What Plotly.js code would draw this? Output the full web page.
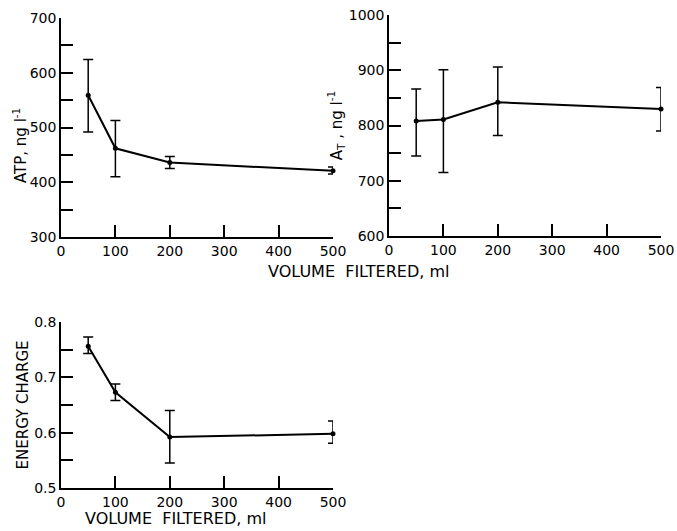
<!DOCTYPE html>
<html>
<head>
<meta charset="utf-8">
<script src="https://cdn.plot.ly/plotly-3.0.1.min.js"></script>
<style>html,body{margin:0;padding:0;background:#fff;}#chart{width:677px;height:531px;}</style>
</head>
<body>
<div id="chart"></div>
<script>
// Data
const volume = [50, 100, 200, 500];
const xTicks = [0, 100, 200, 300, 400, 500];

const atp = [559, 462, 436, 421];
const atpHigh = [624, 513, 447, 428];
const atpLow = [492, 410, 425, 415];

const aT = [808, 811, 842, 830];
const aTHigh = [866, 901, 906, 869];
const aTLow = [745, 715, 782, 790];

const energyCharge = [0.756, 0.673, 0.592, 0.598];
const ecHigh = [0.773, 0.688, 0.640, 0.621];
const ecLow = [0.743, 0.658, 0.545, 0.581];

const titleX = "VOLUME\u00a0\u00a0FILTERED, ml";

function err(vals, hi, lo) {
  return {
    type: 'data', symmetric: false,
    array: hi.map((h, i) => h - vals[i]),
    arrayminus: lo.map((l, i) => vals[i] - l),
    color: '#000', thickness: 1.5, width: 5
  };
}
function trace(y, hi, lo, xa, ya) {
  return {
    x: volume, y: y, xaxis: xa, yaxis: ya, type: 'scatter', mode: 'lines+markers',
    line: {color: '#000', width: 2},
    marker: {color: '#000', size: 5},
    error_y: err(y, hi, lo),
    cliponaxis: false,
    hoverinfo: 'x+y'
  };
}

const font = {family: 'DejaVu Sans, sans-serif', size: 14, color: '#000'};
const titleFont = {family: 'DejaVu Sans, sans-serif', size: 15, color: '#000'};
const W = 677, H = 531;
const px = v => v / W;
const py = v => 1 - v / H;

function xAxis(d0, d1, anchor) {
  return {
    domain: [px(d0), px(d1)], anchor: anchor, range: [0, 500],
    tickvals: xTicks, ticktext: xTicks.map(String),
    showline: true, linecolor: '#000', linewidth: 1.5,
    ticks: 'inside', ticklen: 12, tickwidth: 1.5, tickcolor: '#000',
    showgrid: false, zeroline: false, tickfont: font, fixedrange: true
  };
}
function yAxis(top, bot, range, dtick, anchor, title, standoff) {
  const ax = {
    domain: [py(bot), py(top)], anchor: anchor, range: range,
    dtick: dtick, tick0: range[0],
    showline: true, linecolor: '#000', linewidth: 1.5,
    ticks: 'inside', ticklen: 12, tickwidth: 1.5, tickcolor: '#000',
    minor: {dtick: dtick / 2, ticks: 'inside', ticklen: 12, tickwidth: 1.5, tickcolor: '#000', showgrid: false},
    showgrid: false, zeroline: false, tickfont: font, fixedrange: true
  };
  if (title) ax.title = {text: title, font: titleFont, standoff: standoff};
  return ax;
}

const data = [
  trace(atp, atpHigh, atpLow, 'x', 'y'),
  trace(aT, aTHigh, aTLow, 'x2', 'y2'),
  trace(energyCharge, ecHigh, ecLow, 'x3', 'y3')
];

const layout = {
  width: W, height: H,
  margin: {l: 0, r: 0, t: 0, b: 0},
  paper_bgcolor: '#fff', plot_bgcolor: '#fff',
  showlegend: false,
  font: font,
  xaxis: xAxis(61, 333, 'y'),
  yaxis: yAxis(18, 237, [300, 700], 100, 'x', null),
  xaxis2: xAxis(389, 661, 'y2'),
  yaxis2: yAxis(15, 236, [600, 1000], 100, 'x2', 'A<sub>T</sub> , ng l<sup>-1</sup>', 3),
  xaxis3: xAxis(61, 333, 'y3'),
  yaxis3: yAxis(322, 488, [0.5, 0.8], 0.1, 'x3', 'ENERGY CHARGE', 2),
  annotations: [
    {text: 'ATP, ng l<sup>-1</sup>', xref: 'paper', yref: 'paper', x: px(20), y: py(146),
     textangle: -90, showarrow: false, xanchor: 'center', yanchor: 'middle',
     font: titleFont},
    {text: titleX, xref: 'paper', yref: 'paper', x: px(358), y: py(271),
     showarrow: false, xanchor: 'center', yanchor: 'middle',
     font: {family: 'DejaVu Sans, sans-serif', size: 16, color: '#000'}},
    {text: titleX, xref: 'paper', yref: 'paper', x: px(175), y: py(518),
     showarrow: false, xanchor: 'center', yanchor: 'middle',
     font: {family: 'DejaVu Sans, sans-serif', size: 16, color: '#000'}}
  ]
};

Plotly.newPlot('chart', data, layout, {displayModeBar: false});
</script>
</body>
</html>
